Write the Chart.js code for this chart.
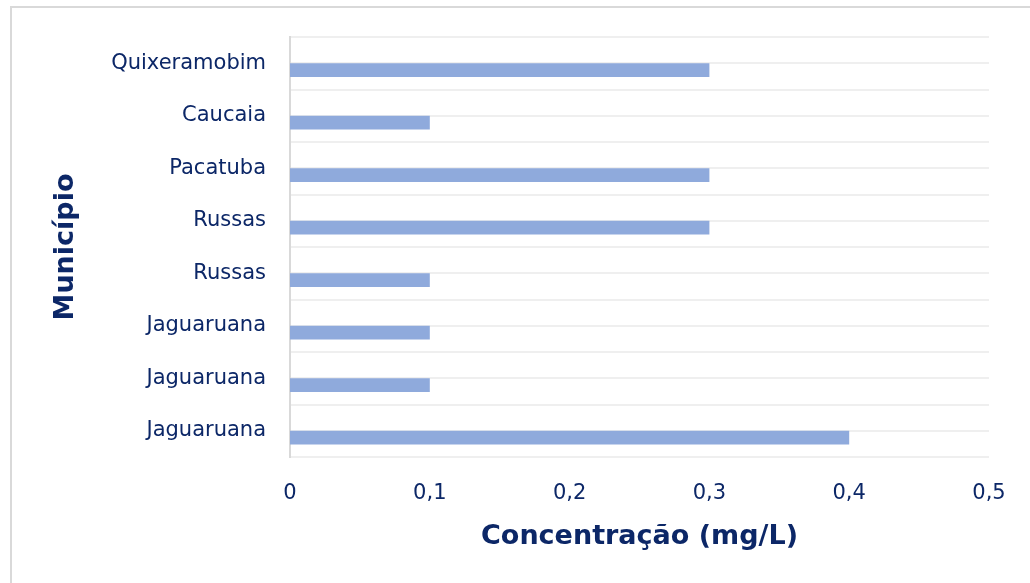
<!DOCTYPE html>
<html>
<head>
<meta charset="utf-8">
<script src="https://cdn.jsdelivr.net/npm/chart.js@4.4.1/dist/chart.umd.min.js"></script>
<style>
  html, body { margin: 0; padding: 0; background: #ffffff; }
  #frame {
    position: absolute; left: 10px; top: 6px; width: 1040px; height: 600px;
    border: 2px solid #d9d9d9; box-sizing: border-box;
  }
  #wrap { position: absolute; left: 0; top: 0; width: 1030px; height: 583px; }
</style>
</head>
<body>
<div id="frame"></div>
<div id="wrap"><canvas id="chart" width="1030" height="583"></canvas></div>
<script>
// Municipalities, top to bottom
const municipios = ['Quixeramobim', 'Caucaia', 'Pacatuba', 'Russas', 'Russas', 'Jaguaruana', 'Jaguaruana', 'Jaguaruana'];
// Measured concentration (mg/L)
const concentracao = [0.3, 0.1, 0.3, 0.3, 0.1, 0.1, 0.1, 0.4];
// Companion series without values (keeps the bar in the lower slot of each group)
const referencia = [null, null, null, null, null, null, null, null];
// Half-band rows used for the horizontal guide lines
const faixas = municipios.flatMap(() => ['', '']);

const navy = '#0c2767';
const fontFamily = "'Century Gothic', 'DejaVu Sans', sans-serif";

new Chart(document.getElementById('chart'), {
  type: 'bar',
  data: {
    labels: municipios,
    datasets: [
      { label: 'Referência', data: referencia, backgroundColor: '#8faadc' },
      { label: 'Concentração', data: concentracao, backgroundColor: '#8faadc' }
    ]
  },
  options: {
    indexAxis: 'y',
    responsive: false,
    animation: false,
    datasets: { bar: { categoryPercentage: 0.52, barPercentage: 1.0 } },
    layout: { padding: { top: 37, right: 41, left: 50, bottom: 30 } },
    plugins: { legend: { display: false }, tooltip: { enabled: false } },
    scales: {
      x: {
        type: 'linear', min: 0, max: 0.5,
        ticks: {
          stepSize: 0.1, color: navy, padding: 24,
          font: { family: fontFamily, size: 21 },
          callback: v => String(Math.round(v * 10) / 10).replace('.', ',')
        },
        grid: { display: false, drawTicks: false },
        border: { display: false },
        title: {
          display: true, text: 'Concentração (mg/L)', color: navy,
          font: { family: fontFamily, size: 27, weight: 'bold' },
          padding: 0
        },
        afterFit: s => { s.height = 96; }
      },
      y: {
        type: 'category', offset: true,
        ticks: { color: navy, padding: 24, font: { family: fontFamily, size: 21 } },
        grid: { display: false, drawTicks: false },
        border: { display: true, color: '#d9d9d9', width: 2 },
        title: {
          display: true, text: 'Município', color: navy,
          font: { family: fontFamily, size: 27, weight: 'bold' },
          padding: 0
        },
        afterFit: s => { s.width = 240; }
      },
      y2: {
        type: 'category', labels: faixas, position: 'left', offset: true,
        ticks: { display: false },
        grid: { display: true, offset: true, color: '#efefef', lineWidth: 2, drawTicks: false },
        border: { display: false },
        afterFit: s => { s.width = 0; }
      }
    }
  }
});
</script>
</body>
</html>
